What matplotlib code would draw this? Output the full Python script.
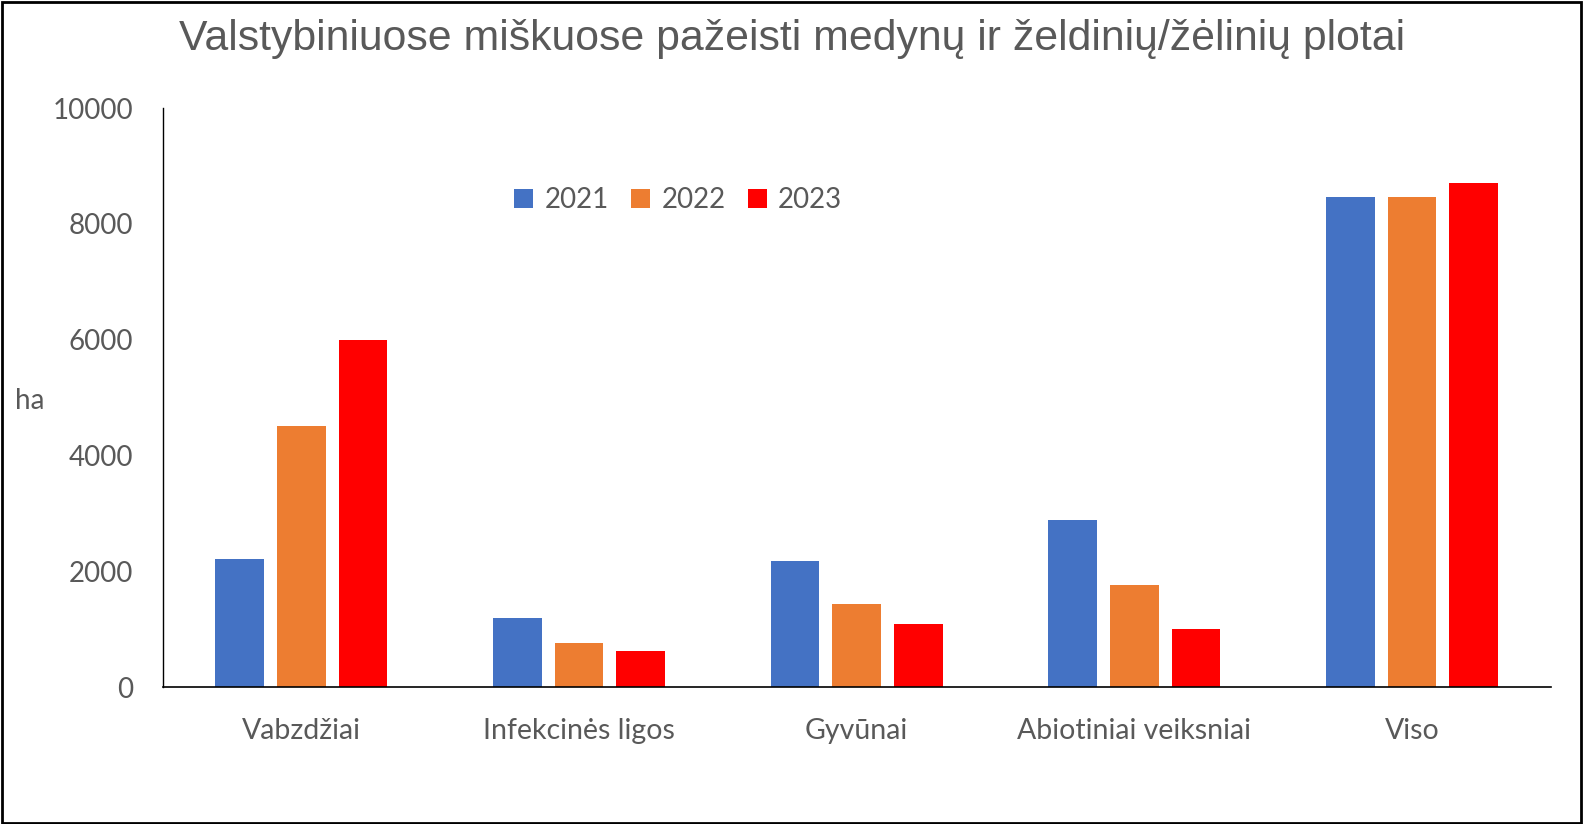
import matplotlib
matplotlib.use("Agg")
import matplotlib.pyplot as plt
import numpy as np
from matplotlib.patches import Rectangle


categories = ["Vabzdžiai", "Infekcinės ligos", "Gyvūnai", "Abiotiniai veiksniai", "Viso"]
years = ["2021", "2022", "2023"]
v2021 = [2210, 1195, 2180, 2885, 8467]
v2022 = [4505, 765, 1438, 1758, 8467]
v2023 = [5995, 627, 1093, 1000, 8705]
colors = ["#4472C4", "#ED7D31", "#FF0000"]

title = "Valstybiniuose miškuose pažeisti medynų ir želdinių/žėlinių plotai"
gray = "#595959"


fig = plt.figure(figsize=(15.84, 8.24), dpi=100)
ax = fig.add_axes([162.6/1584, 1-687.3/824, (1550.7-162.6)/1584, (687.3-108.1)/824])

x = np.arange(len(categories))
w = 0.175
step = 0.222
for i, (vals, lab) in enumerate(zip([v2021, v2022, v2023], years)):
	ax.bar(x + (i-1)*step, vals, width=w, color=colors[i], label=lab)

ax.set_xlim(-0.5, len(categories)-0.5)
ax.set_ylim(0, 10000)
ax.set_yticks(range(0, 10001, 2000))
ax.set_xticks(x)
ax.set_xticklabels(categories)

for s in ["top", "right"]:
	ax.spines[s].set_visible(False)
ax.spines["left"].set_color("black")
ax.spines["bottom"].set_color("black")
ax.spines["left"].set_linewidth(1.0)
ax.spines["bottom"].set_linewidth(1.2)

ax.tick_params(axis="y", length=0, pad=21, labelsize=20, labelcolor=gray)
ax.tick_params(axis="x", length=0, pad=22, labelsize=20.5, labelcolor=gray)
for t in ax.get_xticklabels() + ax.get_yticklabels():
	t.set_fontfamily("Lato")

fig.text(15/1584, 1-401/824, "ha", fontsize=20, color=gray, family="Lato", ha="left", va="center")

fig.text(0.5, 1-39/824, title, fontsize=30.8, color=gray, family="Liberation Sans", ha="center", va="center")

leg = ax.legend(loc="center", bbox_to_anchor=(678/1584, 1-200/824), bbox_transform=fig.transFigure,
	ncol=3, frameon=False, prop={"family": "Lato", "size": 20}, handlelength=0.7, handleheight=0.7,
	handletextpad=0.4, columnspacing=0.8)
for t in leg.get_texts():
	t.set_color(gray)

fig.patches.append(Rectangle((0.001, 0.001), 0.997, 0.997, transform=fig.transFigure,
	fill=False, edgecolor="black", linewidth=2))

fig.savefig("out.png", dpi=100)
